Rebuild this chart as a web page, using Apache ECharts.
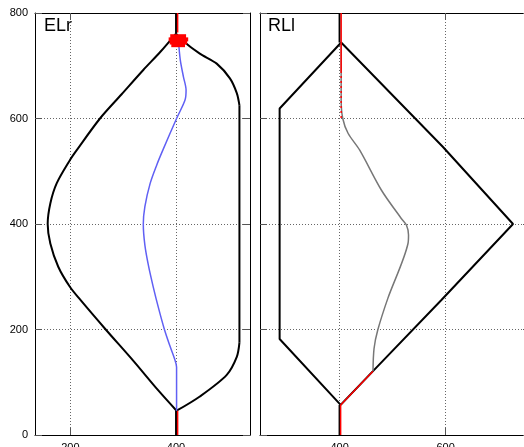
<!DOCTYPE html>
<html><head><meta charset="utf-8">
<script src="https://cdn.jsdelivr.net/npm/echarts@6/dist/echarts.min.js"></script>
<style>html,body{margin:0;padding:0;background:#fff}#c{width:524px;height:447px}</style>
</head><body><div id="c"></div>
<script>
// ---- data ----
const yTicks = [0, 200, 400, 600, 800];
const xTicksL = [200, 400];
const xTicksR = [400, 600];
const titles = ['ELr', 'RLl'];

const elrOutlineLeft = [[400,761],[370,726],[338,692],[297,646],[256,600],[212,540],[199,521],[174,477],[162,439],[157,400],[162,363],[177,319],[199,281],[219,256],[266,201],[318,142],[366,85],[401,46]];
const elrOutlineRightLow = [[401,46],[445,73],[496,114],[515,148],[520,175]];
const elrOutlineRightMid = [[520,175],[520,625]];
const elrOutlineRightHigh = [[520,625],[515,648],[502,676],[477,704],[445,723],[411,749],[400,761]];
const elrStemTop = [[400,761],[400,800]];
const elrStemBottom = [[400,0],[400,46]];
const elrBlue = [[401,46],[401,129],[397,145],[388,170],[378,200],[367,240],[357,280],[348,320],[341,360],[338,400],[341,433],[351,477],[363.5,512],[375,540],[401,600],[417,635],[419,654],[414,679],[408,711],[404,755]];
const elrRedBottom = [[403,0],[403,46]];
const elrRedTop = [[403,763],[403,800]];
const elrRedBlob = [[[389,756],[419,756]],[[386,750],[423,750]],[[388,744],[421,744]],[[391,739],[417,739]]];

const rllOutline = [[403,744],[287,619],[287,182],[402,57],[463,121],[592,256],[727,400],[595,546],[403,744]];
const rllStemTop = [[400,744],[400,800]];
const rllStemBottom = [[400,0],[400,57]];
const rllGray = [[403,744],[403,635],[406,600],[416,572],[438,540],[479,464],[516,411],[526,398],[530,379],[529,363],[491,259],[472,199],[465,164],[463,121]];
const rllRedBottom = [[402,0],[402,57],[463,121]];
const rllRedTop = [[403,800],[403,690]];
const rllRedTopDotted = [[403,690],[403,600]];

// ---- chart ----
const chart = echarts.init(document.getElementById('c'), null, {renderer: 'canvas'});
const tickStyle = {show: true, inside: true, length: 7, lineStyle: {color: '#555', width: 1}};
const splitStyle = {show: true, lineStyle: {color: '#666', width: 1, type: [1, 2]}};
const lineAx = {show: true, onZero: false, lineStyle: {color: '#000', width: 1}};
const lab = {color: '#000', fontSize: 11, fontFamily: 'Liberation Sans'};

function xAx(grid, pos, min, max, ticks, labels) {
  return {type: 'value', gridIndex: grid, position: pos, min: min, max: max,
    axisLine: lineAx,
    axisTick: Object.assign({}, tickStyle, {customValues: ticks}),
    axisLabel: labels ? Object.assign({show: true, margin: 7, customValues: ticks}, lab) : {show: false},
    splitLine: labels ? Object.assign({}, splitStyle) : {show: false}};
}
function yAx(grid, pos, labels, split) {
  return {type: 'value', gridIndex: grid, position: pos, min: 0, max: 800, interval: 200,
    axisLine: lineAx, axisTick: tickStyle,
    axisLabel: labels ? Object.assign({show: true, margin: 7}, lab) : {show: false},
    splitLine: split ? splitStyle : {show: false}};
}
function ln(data, color, width, xi, yi, z, dashed, smooth) {
  return {type: 'line', data: data, xAxisIndex: xi, yAxisIndex: yi, symbol: 'none', z: z,
    smooth: smooth || false,
    lineStyle: {color: color, width: width, type: dashed ? [2, 3] : 'solid'}, silent: true, animation: false};
}

const series = [];
series.push(ln(elrOutlineLeft, '#000', 2, 0, 0, 2, false, 0.3));
series.push(ln(elrOutlineRightLow, '#000', 2, 0, 0, 2, false, 0.3));
series.push(ln(elrOutlineRightMid, '#000', 2, 0, 0, 2));
series.push(ln(elrOutlineRightHigh, '#000', 2, 0, 0, 2, false, 0.3));
series.push(ln(elrStemTop, '#000', 2, 0, 0, 2));
series.push(ln(elrStemBottom, '#000', 2, 0, 0, 2));
series.push(ln(elrBlue, '#6060f4', 1.5, 0, 0, 3, false, 0.3));
series.push(ln(elrRedBottom, '#f00', 1.5, 0, 0, 4));
series.push(ln(elrRedTop, '#f00', 1.5, 0, 0, 4));
elrRedBlob.forEach(s => series.push(ln(s, '#f00', 4, 0, 0, 4)));

series.push(ln(rllOutline, '#000', 2, 2, 2, 2));
series.push(ln(rllStemTop, '#000', 2, 2, 2, 2));
series.push(ln(rllStemBottom, '#000', 2, 2, 2, 2));
series.push(ln(rllGray, '#777', 1.5, 2, 2, 3, false, 0.3));
series.push(ln(rllRedBottom, '#f00', 1.5, 2, 2, 4));
series.push(ln(rllRedTop, '#f00', 1.5, 2, 2, 4));
series.push(ln(rllRedTopDotted, '#f00', 1.5, 2, 2, 4, true));

chart.setOption({
  animation: false,
  backgroundColor: '#fff',
  grid: [
    {left: 35, top: 13, width: 215, height: 422, containLabel: false, outerBoundsMode: 'none'},
    {left: 260, top: 13, width: 270, height: 422, containLabel: false, outerBoundsMode: 'none'}
  ],
  xAxis: [
    xAx(0, 'bottom', 133, 540, xTicksL, true),
    xAx(0, 'top', 133, 540, xTicksL, false),
    xAx(1, 'bottom', 250, 759, xTicksR, true),
    xAx(1, 'top', 250, 759, xTicksR, false)
  ],
  yAxis: [
    yAx(0, 'left', true, true),
    yAx(0, 'right', false, false),
    yAx(1, 'left', false, true),
    yAx(1, 'right', false, false)
  ],
  graphic: [
    {type: 'text', left: 44, top: 17, z: 10, style: {text: titles[0], font: '18px "Liberation Sans"', fill: '#000'}},
    {type: 'text', left: 268, top: 17, z: 10, style: {text: titles[1], font: '18px "Liberation Sans"', fill: '#000'}}
  ],
  series: series
});
</script>
</body></html>
